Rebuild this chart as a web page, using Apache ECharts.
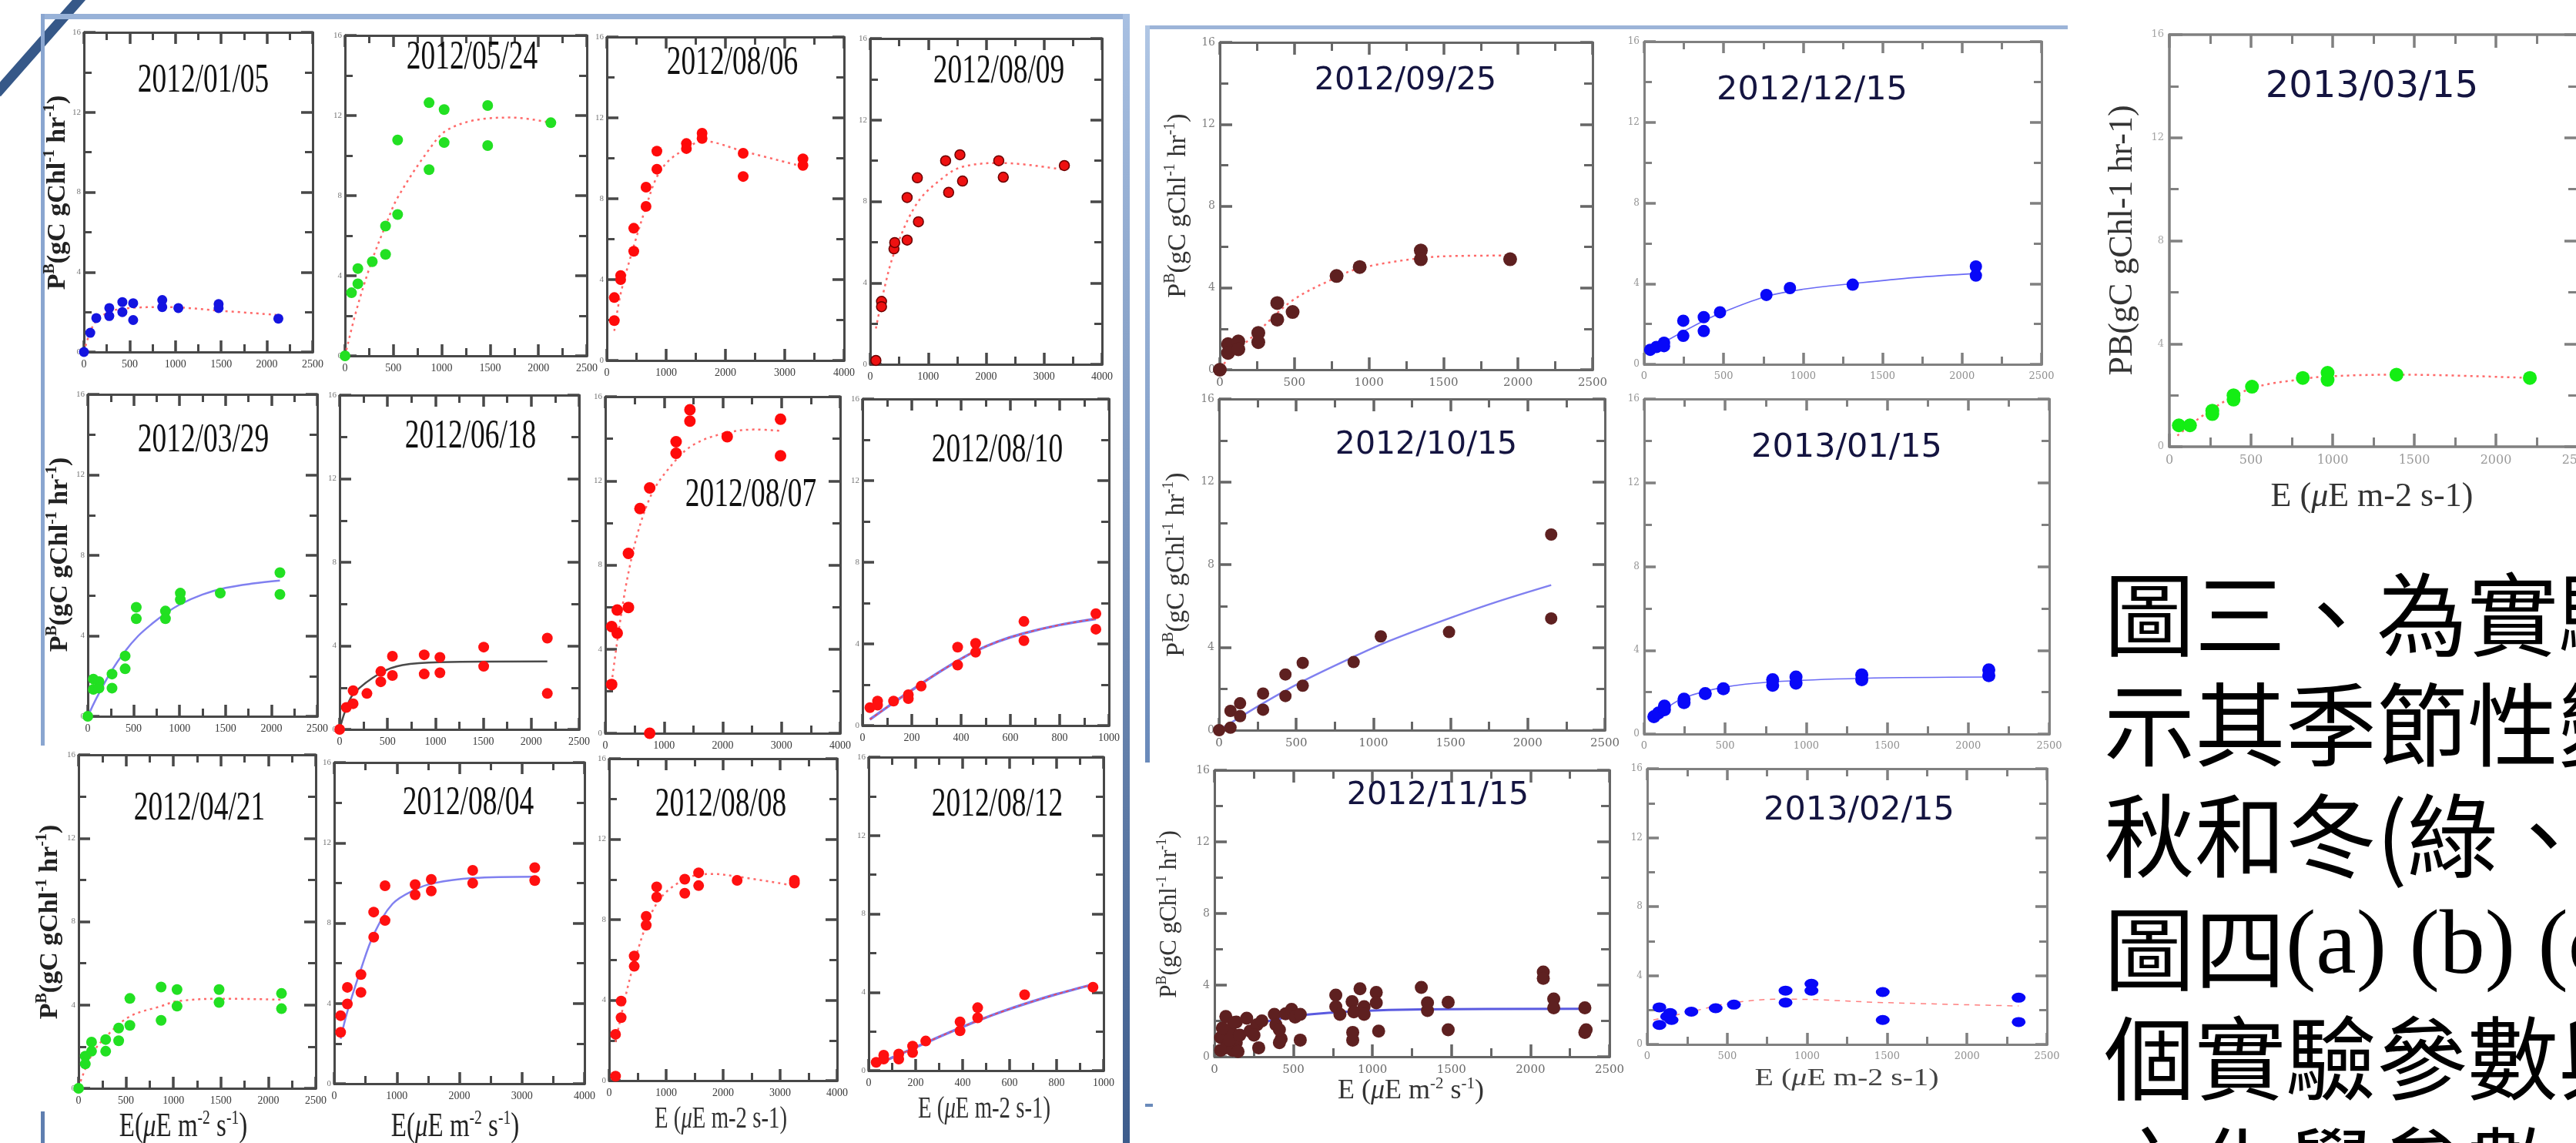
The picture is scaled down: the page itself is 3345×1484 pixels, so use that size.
<!DOCTYPE html>
<html>
<head>
<meta charset="utf-8">
<script src="https://cdn.jsdelivr.net/npm/echarts@6/dist/echarts.min.js"></script>
<style>
html,body{margin:0;padding:0;background:#fff;}
#c{width:3345px;height:1484px;}
</style>
</head>
<body>
<div id="c"></div>
<script>
// ---- Sampling dates (one P-E panel each) ----
const dates = ['2012/01/05','2012/05/24','2012/08/06','2012/08/09',
               '2012/03/29','2012/06/18','2012/08/07','2012/08/10',
               '2012/04/21','2012/08/04','2012/08/08','2012/08/12',
               '2012/09/25','2012/10/15','2012/11/15',
               '2012/12/15','2013/01/15','2013/02/15',
               '2013/03/15'];

// ---- Axis ranges: E (µE m-2 s-1) maximum and tick step per panel, P^B 0..16 ----
const xMax  = [2500,2500,4000,4000, 2500,2500,4000,1000, 2500,4000,4000,1000, 2500,2500,2500, 2500,2500,2500, 2500];
const xStep = [500,500,1000,1000,   500,500,1000,200,    500,1000,1000,200,   500,500,500,    500,500,500,    500];
const yMax = 16, yStep = 4;

// ---- Measured photosynthesis [E, P^B] ----
const obs_20120105 = [[0,0],[69,0.96],[135,1.7],[277,1.8],[277,2.2],[420,2.0],[420,2.5],[538,2.44],[538,1.6],[856,2.6],[856,2.25],[1032,2.2],[1472,2.4],[1472,2.2],[2125,1.67]];
const obs_20120524 = [[0,0],[67,3.15],[133,4.36],[133,3.6],[282,4.7],[419,6.48],[419,5.07],[544,10.78],[544,7.06],[869,12.64],[869,9.3],[1025,12.3],[1025,10.65],[1475,12.5],[1475,10.5],[2128,11.64]];
const obs_20120806 = [[126,1.97],[126,3.11],[233,4.0],[233,4.2],[454,6.54],[454,5.4],[661,8.57],[661,7.62],[844,10.35],[844,9.46],[1342,10.73],[1342,10.48],[1606,11.24],[1606,10.98],[2299,10.25],[2299,9.1],[3307,9.97],[3307,9.65]];
const obs_20120809 = [[98,0.19],[195,3.09],[195,2.83],[410,5.67],[423,5.98],[637,6.1],[637,8.19],[813,9.16],[832,7.0],[1301,10.0],[1353,8.44],[1548,10.29],[1593,9.0],[2218,10.0],[2296,9.19],[3350,9.76]];
const obs_20120329 = [[0,0],[61,1.85],[61,1.34],[122,1.72],[122,1.4],[264,2.1],[264,1.4],[407,3.0],[407,2.36],[528,5.42],[528,4.85],[846,5.23],[846,4.85],[1008,6.12],[1008,5.8],[1443,6.12],[2093,7.14],[2093,6.06]];
const obs_20120618 = [[0,0],[70,1.05],[141,1.23],[141,1.85],[285,1.72],[430,2.77],[430,2.28],[551,3.5],[551,2.58],[883,3.57],[883,2.65],[1047,3.45],[1047,2.71],[1504,3.94],[1504,3.02],[2168,4.37],[2168,1.72]];
const obs_20120807 = [[108,5.07],[203,4.76],[203,5.86],[108,2.32],[394,8.55],[394,5.98],[590,10.68],[756,11.66],[756,0],[1206,13.86],[1206,13.31],[1441,15.38],[1441,14.84],[2076,14.1],[2984,14.93],[2984,13.19]];
const obs_20120810 = [[30,0.88],[61,1.2],[61,1.0],[126,1.2],[186,1.51],[186,1.32],[238,1.93],[386,3.84],[386,2.96],[459,4.03],[459,3.59],[655,5.1],[655,4.16],[947,5.48],[947,4.72]];
const obs_20120421 = [[0,0],[71,1.54],[71,1.17],[137,2.22],[137,1.78],[286,2.34],[286,1.78],[423,2.89],[423,2.28],[541,4.31],[541,3.02],[870,4.86],[870,3.26],[1038,4.74],[1038,3.94],[1481,4.74],[1481,4.12],[2139,4.55],[2139,3.82]];
const obs_20120804 = [[102,3.39],[102,2.56],[210,4.8],[210,3.97],[427,5.44],[427,4.55],[631,8.55],[631,7.3],[812,9.86],[812,8.13],[1293,9.92],[1293,9.41],[1551,10.18],[1551,9.6],[2213,10.63],[2213,9.99],[3205,10.76],[3205,10.12]];
const obs_20120808 = [[112,0.22],[112,2.3],[210,3.13],[210,3.95],[440,5.68],[440,6.19],[650,7.72],[650,8.16],[834,9.12],[834,9.63],[1327,9.31],[1327,10.01],[1570,9.69],[1570,10.33],[2246,9.95],[3251,9.95],[3251,9.82]];
const obs_20120812 = [[32,0.42],[64,0.79],[64,0.59],[128,0.85],[128,0.59],[187,1.25],[187,0.92],[243,1.51],[389,2.49],[389,2.03],[464,3.21],[464,2.69],[664,3.87],[955,4.26]];
const obs_20120925 = [[0,0],[55,1.25],[55,0.82],[124,1.38],[124,1.0],[258,1.8],[258,1.35],[385,3.26],[385,2.45],[488,2.82],[783,4.58],[938,5.02],[1348,5.83],[1348,5.4],[1947,5.4]];
const obs_20121015 = [[0,0],[74,0.12],[74,0.93],[136,1.3],[136,0.68],[285,1.77],[285,0.99],[430,2.69],[430,1.65],[542,3.25],[542,2.15],[872,3.29],[1048,4.53],[1490,4.74],[2152,9.45],[2152,5.4]];
const obs_20121115 = [[72,2.25],[39,1.08],[39,0.36],[72,0.5],[105,1.36],[116,0.36],[138,1.94],[138,0.79],[149,0.29],[94,0.93],[50,1.6],[120,1.9],[160,1.2],[204,2.15],[225,1.43],[269,1.79],[280,0.5],[250,1.2],[300,2.0],[379,2.37],[389,1.79],[422,1.0],[411,1.51],[411,0.79],[450,2.4],[488,2.65],[510,2.22],[543,2.37],[543,0.93],[768,3.44],[768,2.8],[794,2.37],[871,3.08],[882,2.51],[875,1.36],[875,0.93],[921,3.8],[947,2.8],[947,2.37],[1024,3.59],[1024,3.01],[1039,1.43],[1309,3.87],[1348,3.01],[1348,2.58],[1479,3.04],[1479,1.51],[2081,4.73],[2081,4.38],[2147,3.23],[2147,2.73],[2344,2.73],[2352,1.51],[2344,1.36]];
const obs_20121215 = [[38,0.72],[77,0.86],[125,1.07],[125,0.9],[246,2.16],[246,1.41],[375,2.34],[375,1.65],[477,2.58],[769,3.44],[917,3.78],[1312,3.95],[2087,4.85],[2087,4.4]];
const obs_20130115 = [[60,0.83],[88,1.0],[125,1.16],[125,1.33],[246,1.66],[246,1.5],[377,1.93],[489,2.16],[793,2.59],[793,2.33],[937,2.72],[937,2.43],[1343,2.82],[1343,2.59],[2127,3.06],[2127,2.79]];
const obs_20130215 = [[76,2.15],[76,1.13],[124,1.62],[152,1.42],[143,1.82],[276,1.9],[428,2.1],[542,2.31],[865,3.12],[865,2.43],[1027,3.52],[1027,3.12],[1473,3.04],[1473,1.42],[2323,2.71],[2323,1.3]];
const obs_20130315 = [[58,0.83],[126,0.83],[263,1.27],[263,1.4],[393,1.83],[393,2.0],[506,2.33],[817,2.67],[969,2.87],[969,2.6],[1391,2.8],[2208,2.67]];

// ---- Fitted P-E curves [E, P^B] ----
const fit_20120105 = [[0,0],[60,0.9],[143,1.6],[306,2.05],[500,2.2],[877,2.25],[1530,2.05],[2100,1.86]];
const fit_20120524 = [[0,0],[125,2.4],[282,4.8],[419,6.5],[544,7.9],[869,10.3],[1064,11.3],[1455,11.85],[1729,11.9],[2120,11.65]];
const fit_20120806 = [[126,1.46],[233,3.3],[454,5.65],[661,7.6],[844,9.08],[1050,9.9],[1342,10.48],[1606,10.86],[2299,10.35],[3307,9.59]];
const fit_20120809 = [[98,1.76],[250,3.8],[423,5.54],[813,7.93],[1268,9.19],[1593,9.7],[2244,9.89],[3350,9.55]];
const fit_20120329 = [[0,0],[100,0.95],[250,2.2],[400,3.2],[550,4.0],[700,4.6],[850,5.12],[1000,5.55],[1250,6.05],[1500,6.38],[1800,6.6],[2093,6.75]];
const fit_20120618 = [[0,0],[60,0.9],[148,1.72],[430,2.71],[656,3.08],[1047,3.22],[2168,3.25]];
const fit_20120807 = [[108,2.38],[394,7.63],[756,11.17],[1206,13.0],[1556,13.8],[2076,14.29],[2571,14.44],[2984,14.37]];
const fit_20120810 = [[30,0.3],[100,0.9],[186,1.62],[280,2.38],[386,3.17],[459,3.65],[550,4.12],[655,4.52],[800,4.93],[947,5.23]];
const fit_20120421 = [[0,0.06],[137,1.6],[286,2.46],[541,3.45],[870,3.94],[1038,4.18],[1528,4.3],[2139,4.25]];
const fit_20120804 = [[102,2.24],[210,3.59],[427,5.7],[631,7.43],[932,8.96],[1293,9.67],[1594,9.99],[2213,10.24],[3205,10.31]];
const fit_20120808 = [[112,1.91],[440,5.87],[834,8.8],[1327,10.01],[1819,10.27],[2246,10.14],[3251,9.69]];
const fit_20120812 = [[32,0.3],[100,0.66],[187,1.12],[280,1.62],[389,2.18],[480,2.62],[570,3.02],[664,3.4],[800,3.9],[955,4.4]];
const fit_20120925 = [[0,0.06],[62,0.56],[258,1.88],[488,3.39],[783,4.52],[938,4.96],[1348,5.46],[1594,5.56],[1947,5.58]];
const fit_20121015 = [[0,0],[285,1.3],[542,2.36],[872,3.54],[1100,4.3],[1490,5.4],[1800,6.2],[2152,7.01]];
const fit_20121115 = [[50,0.43],[225,1.65],[389,2.08],[575,2.34],[882,2.54],[1319,2.65],[2344,2.68]];
const fit_20121215 = [[20,0.6],[125,1.1],[375,2.16],[500,2.6],[769,3.37],[1000,3.72],[1312,4.0],[1700,4.3],[2087,4.5]];
const fit_20130115 = [[41,0.66],[130,1.2],[246,1.73],[489,2.23],[793,2.49],[1343,2.66],[2127,2.72]];
const fit_20130215 = [[38,1.42],[276,1.9],[542,2.43],[865,2.63],[1473,2.43],[2323,2.23]];
const fit_20130315 = [[49,0.43],[263,1.47],[506,2.27],[817,2.63],[969,2.73],[1391,2.8],[2208,2.67]];

const observations = [obs_20120105,obs_20120524,obs_20120806,obs_20120809,obs_20120329,obs_20120618,obs_20120807,obs_20120810,
  obs_20120421,obs_20120804,obs_20120808,obs_20120812,obs_20120925,obs_20121015,obs_20121115,obs_20121215,obs_20130115,obs_20130215,obs_20130315];
const fits = [fit_20120105,fit_20120524,fit_20120806,fit_20120809,fit_20120329,fit_20120618,fit_20120807,fit_20120810,
  fit_20120421,fit_20120804,fit_20120808,fit_20120812,fit_20120925,fit_20121015,fit_20121115,fit_20121215,fit_20130115,fit_20130215,fit_20130315];

// ---- Page layout (pixel boxes of each plot frame: left, top, right, bottom) ----
const boxes = [
  [109,42,406,457],[448,46,762,462],[788,48,1096,468],[1130,50,1431,473],
  [114,512,412,930],[441,513,752,947],[786,515,1091,952],[1120,518,1440,942],
  [102,980,410,1413],[434,990,759,1407],[791,985,1087,1403],[1128,983,1433,1390],
  [1584,55,2068,480],[1583,518,2084,948],[1577,1000,2090,1372],
  [2135,54,2651,473],[2135,518,2661,953],[2139,998,2658,1356],
  [2817,45,3347,580]
];
const groups = ['A','A','A','A','A','A','A','A','A','A','A','A','B','B','B','C','C','C','D'];
const titleAt = [[264,105],[613,75],[951,82],[1297,93],[264,572],[611,567],[975,643],[1295,585],
  [259,1050],[608,1043],[936,1045],[1295,1045],[1825,105],[1852,578],[1867,1033],[2353,118],[2398,582],[2414,1053],[3080,114]];

// frame / label looks per figure group
const looks = {
  A: {frame:'#484848', lw:3, tick:15, minor:10, xf:'Liberation Serif', xs:14, xc:'#3a3a3a', xm:9, ys:11, yc:'#777', ym:4,
      title:{font:'52px "Liberation Serif"', fill:'#111', sx:0.72}},
  B: {frame:'#666666', lw:3, tick:16, minor:11, xf:'DejaVu Serif', xs:15, xc:'#6a6a6a', xm:10, ys:14, yc:'#808080', ym:6,
      title:{font:'41px "DejaVu Sans"', fill:'#141440', sx:1}},
  C: {frame:'#808080', lw:3, tick:15, minor:10, xf:'DejaVu Serif', xs:13, xc:'#909090', xm:9, ys:12, yc:'#959595', ym:6,
      title:{font:'43px "DejaVu Sans"', fill:'#141440', sx:1}},
  D: {frame:'#808080', lw:3.5, tick:17, minor:12, xf:'DejaVu Serif', xs:16, xc:'#9a9a9a', xm:10, ys:13, yc:'#a5a5a5', ym:7,
      title:{font:'48px "DejaVu Sans"', fill:'#141440', sx:1}}
};

// marker look per panel: color, size, border
const markColor = ['#1414e0','#22e022','#ff0a0a','#ee1111','#22e022','#ff1010','#ff0a0a','#ff1010',
  '#22e022','#ff1010','#ff1010','#ff1010','#5e2020','#5e2020','#5e2020','#0808f8','#0808f8','#0808f8','#14ee14'];
const markSize = [13,14,14,13,14,14,15,14,14,14,14,14,18,16,17,16,17,[18,13],18];
const markBorder = [null,null,null,'#6a0000',null,null,null,null,null,null,null,null,null,null,null,null,null,null,null];

// curve styles
const curveStyles = {
  dot:   [{color:'#ff6a6a', width:2.5, type:[3,5]}],
  blue:  [{color:'#8080f0', width:2.5, type:'solid'}],
  gray:  [{color:'#4a4a4a', width:2.5, type:'solid'}],
  blueD: [{color:'#5a5ae0', width:3, type:'solid'}],
  thin:  [{color:'#6a6af5', width:1.6, type:'solid'}],
  dash:  [{color:'#ff8080', width:1.5, type:[7,7]}],
  both:  [{color:'#7a7aee', width:3.5, type:'solid'},{color:'#ff4040', width:1.5, type:[4,4]}]
};
const curveKind = ['dot','dot','dot','dot','blue','gray','dot','both','dot','blue','dot','both','dot','blue','blueD','thin','thin','dash','dot'];

const option = {
  animation: false,
  backgroundColor: '#ffffff',
  grid: [], xAxis: [], yAxis: [], series: [],
  graphic: {elements: []}
};
const G = option.graphic.elements;
const plain = v => String(v);

boxes.forEach((b, i) => {
  const L = looks[groups[i]];
  option.grid.push({left:b[0], top:b[1], width:b[2]-b[0], height:b[3]-b[1], containLabel:false, outerBoundsMode:'none'});
  const line = {show:true, onZero:false, lineStyle:{color:L.frame, width:L.lw}};
  const tick = {show:true, inside:true, length:L.tick, lineStyle:{color:L.frame, width:3.5}};
  const minor = {show:true, splitNumber:2, length:L.minor, lineStyle:{color:L.frame, width:3}};
  const base = {gridIndex:i, type:'value', axisLine:line, axisTick:tick, minorTick:minor,
                splitLine:{show:false}, minorSplitLine:{show:false}};
  option.xAxis.push(Object.assign({}, base, {position:'bottom', min:0, max:xMax[i], interval:xStep[i],
    axisLabel:{fontFamily:L.xf, fontSize:L.xs, color:L.xc, margin:L.xm, formatter:plain, showMinLabel:true, showMaxLabel:true}}));
  option.xAxis.push(Object.assign({}, base, {position:'top', min:0, max:xMax[i], interval:xStep[i], axisLabel:{show:false}}));
  option.yAxis.push(Object.assign({}, base, {position:'left', min:0, max:yMax, interval:yStep,
    axisLabel:{fontFamily:L.xf, fontSize:L.ys, color:L.yc, margin:L.ym, formatter:plain, showMinLabel:true, showMaxLabel:true}}));
  option.yAxis.push(Object.assign({}, base, {position:'right', min:0, max:yMax, interval:yStep, axisLabel:{show:false}}));

  curveStyles[curveKind[i]].forEach(ls => {
    option.series.push({type:'line', xAxisIndex:2*i, yAxisIndex:2*i, data:fits[i], smooth:0.35,
      symbol:'none', clip:false, lineStyle:ls, z:2, silent:true});
  });
  option.series.push({type:'scatter', xAxisIndex:2*i, yAxisIndex:2*i, data:observations[i], symbol:'circle',
    symbolSize:markSize[i], clip:false, z:3,
    itemStyle:{color:markColor[i], opacity:1, borderColor:markBorder[i] || markColor[i], borderWidth:markBorder[i] ? 1.5 : 0}});

  G.push({type:'text', x:titleAt[i][0], y:titleAt[i][1], scaleX:L.title.sx, z:50,
    style:{text:dates[i], font:L.title.font, fill:L.title.fill, align:'center', verticalAlign:'middle'}});
});

// ---- Axis titles ----
const serif = 'Liberation Serif';
function pbLabel(x, y, size, weight, fill) {
  G.push({type:'text', x:x, y:y, rotation:Math.PI/2, z:50, style:{
    text:'{m|P}{s|B}{m|(gC gChl}{s|-1}{m| hr}{s|-1}{m|)}', align:'center', verticalAlign:'middle',
    rich:{
      m:{fontFamily:serif, fontWeight:weight, fontSize:size, fill:fill, lineHeight:size+6, verticalAlign:'middle'},
      s:{fontFamily:serif, fontWeight:weight, fontSize:Math.round(size*0.58), fill:fill, lineHeight:Math.round(size*0.55), verticalAlign:'top'}
    }}});
}
pbLabel(75, 250, 34, 'bold', '#222');
pbLabel(78, 720, 34, 'bold', '#222');
pbLabel(65, 1197, 34, 'bold', '#222');
pbLabel(1530, 267, 34, 'normal', '#333');
pbLabel(1528, 733, 34, 'normal', '#333');
pbLabel(1519, 1187, 31, 'normal', '#333');
G.push({type:'text', x:2756, y:312, rotation:Math.PI/2, z:50,
  style:{text:'PB(gC gChl-1 hr-1)', font:'44px "Liberation Serif"', fill:'#333', align:'center', verticalAlign:'middle'}});

function eLabel(x, y, size, sx, sup, fill) {
  const txt = sup ? '{m|E(}{i|μ}{m|E m}{s|-2}{m| s}{s|-1}{m|)}' : '{m|E (}{i|μ}{m|E m-2 s-1)}';
  G.push({type:'text', x:x, y:y, scaleX:sx, z:50, style:{
    text:txt, align:'center', verticalAlign:'middle',
    rich:{
      m:{fontFamily:serif, fontSize:size, fill:fill, lineHeight:size+4, verticalAlign:'middle'},
      i:{fontFamily:serif, fontStyle:'italic', fontSize:size, fill:fill, lineHeight:size+4, verticalAlign:'middle'},
      s:{fontFamily:serif, fontSize:Math.round(size*0.58), fill:fill, lineHeight:Math.round(size*0.55), verticalAlign:'top'}
    }}});
}
eLabel(238, 1463, 44, 0.75, true, '#222');
eLabel(591, 1463, 44, 0.75, true, '#222');
eLabel(936, 1453, 40, 0.72, false, '#333');
eLabel(1278, 1440, 40, 0.72, false, '#333');
G.push({type:'text', x:1832, y:1417, z:50, style:{
  text:'{m|E (}{i|μ}{m|E m}{s|-2}{m| s}{s|-1}{m|)}', align:'center', verticalAlign:'middle',
  rich:{
    m:{fontFamily:serif, fontSize:36, fill:'#333', lineHeight:40, verticalAlign:'middle'},
    i:{fontFamily:serif, fontStyle:'italic', fontSize:36, fill:'#333', lineHeight:40, verticalAlign:'middle'},
    s:{fontFamily:serif, fontSize:21, fill:'#333', lineHeight:20, verticalAlign:'top'}
  }}});
eLabel(2398, 1401, 32, 1.25, false, '#444');
eLabel(3080, 645, 44, 1.0, false, '#333');

// ---- Slide decorations: frames around the figure groups ----
const LG = echarts.graphic.LinearGradient;
G.push({type:'line', shape:{x1:-4, y1:121, x2:106, y2:-4}, style:{stroke:'#365888', lineWidth:13}, z:40});
G.push({type:'rect', shape:{x:53, y:18, width:1414, height:7}, style:{fill:'#98b2d8'}, z:40});
G.push({type:'rect', shape:{x:53, y:18, width:5, height:950}, style:{fill:'#8aa6d0'}, z:40});
G.push({type:'rect', shape:{x:53, y:1443, width:5, height:41}, style:{fill:'#5f7fb0'}, z:40});
G.push({type:'rect', shape:{x:1458, y:18, width:9, height:1466},
  style:{fill:new LG(0,0,0,1,[{offset:0,color:'#a8c0e2'},{offset:1,color:'#3d5c8c'}])}, z:40});
G.push({type:'rect', shape:{x:1487, y:33, width:1198, height:5}, style:{fill:'#9cb4d8'}, z:40});
G.push({type:'rect', shape:{x:1487, y:33, width:6, height:957},
  style:{fill:new LG(0,0,0,1,[{offset:0,color:'#b0c6e4'},{offset:1,color:'#6a8aba'}])}, z:40});
G.push({type:'rect', shape:{x:1487, y:1433, width:10, height:4}, style:{fill:'#6a8aba'}, z:40});

// ---- Caption text beside the figures ----
const cjk = '"Noto Sans CJK TC"';
const noteLines = ['圖三、為實驗', '示其季節性變', '秋和冬(綠、', null, '個實驗參數與', '之化學參數'];
const noteY = [798, 941, 1085, 1232, 1374, 1518];
noteLines.forEach((t, k) => {
  if (t === null) {
    G.push({type:'text', x:2732, y:noteY[k], z:50, style:{
      text:'{c|圖四}{l|(a) (b) (c)}', align:'left', verticalAlign:'middle',
      rich:{
        c:{fontFamily:'Noto Sans CJK TC', fontSize:118, fill:'#000', lineHeight:130, verticalAlign:'middle'},
        l:{fontFamily:serif, fontSize:118, fill:'#000', lineHeight:130, verticalAlign:'middle'}
      }}});
  } else {
    G.push({type:'text', x:2732, y:noteY[k], z:50,
      style:{text:t, font:'118px ' + cjk, fill:'#000', align:'left', verticalAlign:'middle'}});
  }
});

const chart = echarts.init(document.getElementById('c'), null, {renderer:'canvas'});
chart.setOption(option);
</script>
</body>
</html>
